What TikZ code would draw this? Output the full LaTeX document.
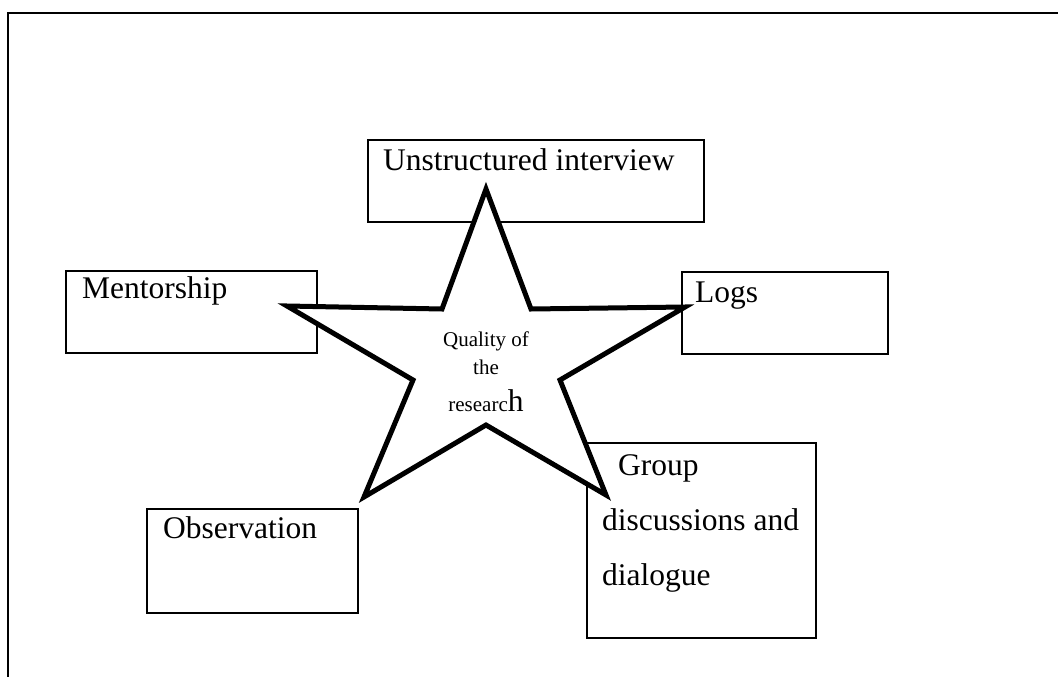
\documentclass[tikz,border=0pt]{standalone}
\usepackage{fontspec}
\setmainfont{Liberation Serif}
\tikzset{
  box/.style={draw, line width=1.6pt},
  boxtext/.style={font=\fontsize{31.5}{55}\selectfont, inner sep=0pt, anchor=base west},
  startext/.style={font=\fontsize{21}{28}\selectfont, inner sep=0pt, align=center},
}
\begin{document}
\begin{tikzpicture}[x=1pt, y=-1pt]
    \useasboundingbox (0,0) rectangle (1058,677);

    % frame
    \draw[line width=2pt] (8,677) -- (8,13) -- (1058,13);

    % boxes
    \draw[box] (368,140) rectangle (704,222);
    \draw[box] (66,271) rectangle (317,353);
    \draw[box] (682,272) rectangle (888,354);
    \draw[box] (147,509) rectangle (358,613);
    \draw[box] (587,443) rectangle (816,638);

    % star
    \draw[line width=5pt, fill=white, line join=miter]
      (486,189) -- (531,309) -- (685,307) -- (560,380) -- (606,495)
      -- (486,425) -- (364,497) -- (413,380) -- (287,306) -- (442,309) -- cycle;
    \node[startext] (quality) at (486,372) {Quality of\\the\\[9pt]researc{\fontsize{31.5}{31.5}\selectfont h}};

    % box texts
    \node[boxtext] (interview) at (383,170) {Unstructured interview};
    \node[boxtext] (mentorship) at (82,298) {Mentorship};
    \node[boxtext] (logs) at (695,302) {Logs};
    \node[boxtext] (observation) at (163,538) {Observation};
    \node[boxtext, anchor=north west, align=left] (group) at (602,454)
      {\hspace*{16pt}Group\\discussions and\\dialogue};
\end{tikzpicture}
\end{document}
